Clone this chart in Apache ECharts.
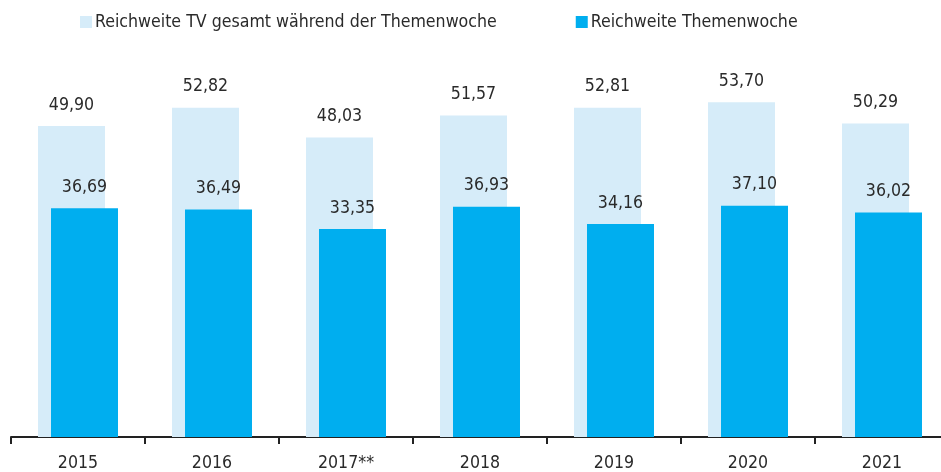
<!DOCTYPE html>
<html>
<head>
<meta charset="utf-8">
<script src="https://cdn.jsdelivr.net/npm/echarts@6/dist/echarts.min.js"></script>
<style>
  html, body { margin: 0; padding: 0; background: #fff; }
  #chart { width: 941px; height: 472px; }
</style>
</head>
<body>
<div id="chart"></div>
<script>
// Daten
const years = ['2015', '2016', '2017**', '2018', '2019', '2020', '2021']
const reichweiteGesamt = [49.90, 52.82, 48.03, 51.57, 52.81, 53.70, 50.29]
const reichweiteThemenwoche = [36.69, 36.49, 33.35, 36.93, 34.16, 37.10, 36.02]

const font = '"DejaVu Sans Condensed", "Liberation Sans", sans-serif'
const fmt = p => p.value.toFixed(2).replace('.', ',')

const myChart = echarts.init(document.getElementById('chart'))
const option = {
    animation: false,
    textStyle: { fontFamily: font },
    legend: {
        left: 75,
        top: 8,
        itemWidth: 12,
        itemHeight: 12,
        itemGap: 79,
        icon: 'rect',
        textStyle: { fontSize: 17.6, color: '#2a2a2a', fontFamily: font, padding: [0, 0, 0, -2] },
        data: ['Reichweite TV gesamt während der Themenwoche', 'Reichweite Themenwoche']
    },
    grid: { left: 11, width: 938, top: 63, bottom: 35, outerBoundsMode: 'none', containLabel: false },
    xAxis: {
        type: 'category',
        data: years,
        axisLine: { show: true, lineStyle: { color: '#222', width: 2 } },
        axisTick: { show: true, length: 7, lineStyle: { color: '#222', width: 2 } },
        axisLabel: { color: '#2a2a2a', fontSize: 17.6, margin: 17, fontFamily: font }
    },
    yAxis: {
        type: 'value',
        min: 0,
        max: 60,
        show: false,
        splitLine: { show: false }
    },
    series: [
        {
            name: 'Reichweite TV gesamt während der Themenwoche',
            type: 'bar',
            data: reichweiteGesamt,
            barWidth: 67,
            barGap: '-80.6%',
            itemStyle: { color: '#d6ecf9' },
            label: {
                show: true, position: 'top', distance: 12,
                fontSize: 17.6, color: '#2a2a2a', fontFamily: font,
                formatter: fmt
            }
        },
        {
            name: 'Reichweite Themenwoche',
            type: 'bar',
            data: reichweiteThemenwoche,
            barWidth: 67,
            itemStyle: { color: '#00aeef' },
            label: {
                show: true, position: 'top', distance: 12,
                fontSize: 17.6, color: '#2a2a2a', fontFamily: font,
                formatter: fmt
            }
        }
    ]
}
myChart.setOption(option)
</script>
</body>
</html>
